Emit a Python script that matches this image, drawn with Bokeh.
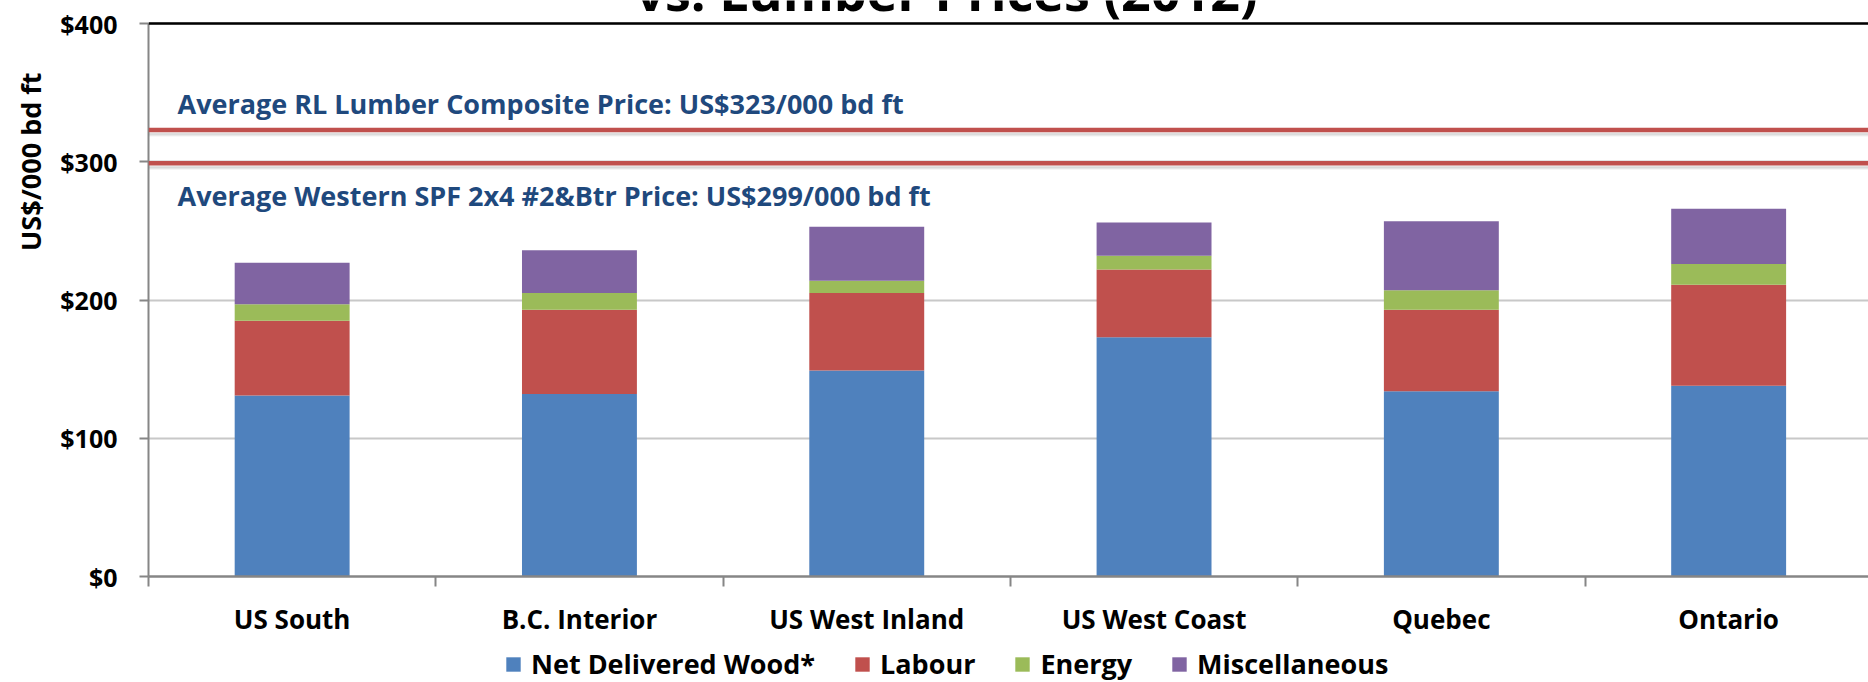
from bokeh.plotting import figure
from bokeh.layouts import column
from bokeh.models import (Range1d, Span, Label, Legend, LegendItem, FixedTicker,
                          ColumnDataSource, Title)
from bokeh.embed import file_html
from bokeh.resources import INLINE

# ---------------- data ----------------
regions = ["US South", "B.C. Interior", "US West Inland", "US West Coast", "Quebec", "Ontario"]
wood = [131, 132, 149, 173, 134, 138]
labour = [54, 61, 56, 49, 59, 73]
energy = [12, 12, 9, 10, 14, 15]
misc = [30, 31, 39, 24, 50, 40]
series_names = ["Net Delivered Wood*", "Labour", "Energy", "Miscellaneous"]
series_keys = ["wood", "labour", "energy", "misc"]
colors = ["#4F81BD", "#C0504D", "#9BBB59", "#8064A2"]
y_ticks = [0, 100, 200, 300, 400]
y_tick_labels = ["$0", "$100", "$200", "$300", "$400"]
rl_price = 323
spf_price = 299
rl_text = "Average RL Lumber Composite Price: US$323/000 bd ft"
spf_text = "Average Western SPF 2x4 #2&Btr Price: US$299/000 bd ft"
title_text = "vs. Lumber Prices (2012)"
y_label_text = "US$/000 bd ft"

# ---------------- layout ----------------
W = 1868
H1, H2 = 646, 36
B_LEFT = 148
AXIS_TOP_PX = 23          # where $400 sits
ZERO_PX = 576             # where $0 sits
B_BOTTOM = H1 - ZERO_PX
CAT_PX = 287.3
frame_w = W - B_LEFT
x_end = frame_w / CAT_PX
y_max = 400
ppu = (ZERO_PX - AXIS_TOP_PX) / y_max
y_top = ZERO_PX / ppu     # frame reaches the top of the page
FONT = "Open Sans"
NAVY = "#1F497D"
AXIS_GRAY = "#868686"

xs = [i + 0.5 for i in range(len(regions))]
bounds = [i for i in range(len(regions) + 1)]
src = ColumnDataSource(dict(x=xs, wood=wood, labour=labour, energy=energy, misc=misc))

p = figure(width=W, height=H1, output_backend="svg", toolbar_location=None,
           x_range=Range1d(0, x_end), y_range=Range1d(0, y_top),
           min_border_left=B_LEFT, min_border_right=0, min_border_top=0,
           min_border_bottom=B_BOTTOM)
p.outline_line_color = None
p.background_fill_color = "white"
p.border_fill_color = "white"

# grid
p.xgrid.visible = False
p.ygrid.ticker = FixedTicker(ticks=y_ticks)
p.ygrid.grid_line_color = "#C8C8C8"
p.ygrid.grid_line_width = 2

# bars
renderers = p.vbar_stack(series_keys, x="x", width=0.4, color=colors, source=src,
                         line_color=None)

# top black rule
p.add_layout(Span(location=y_max, dimension="width", line_color="black", line_width=2.5))

# price lines with soft shadow
for price in (rl_price, spf_price):
    for k, a in ((3.5, 0.10), (2.5, 0.15), (1.5, 0.2)):
        p.add_layout(Span(location=price - (k + 2) / ppu, dimension="width",
                          line_color="#808080", line_alpha=a, line_width=2))
    p.add_layout(Span(location=price, dimension="width", line_color="#C0504D",
                      line_width=4.5))

# axes
xa = p.xaxis[0]
xa.ticker = FixedTicker(ticks=xs, minor_ticks=bounds)
xa.major_label_overrides = {x: r for x, r in zip(xs, regions)}
xa.major_tick_out = 0
xa.major_tick_in = 0
xa.minor_tick_out = 10
xa.minor_tick_in = 0
xa.minor_tick_line_color = AXIS_GRAY
xa.minor_tick_line_width = 2
xa.axis_line_color = AXIS_GRAY
xa.axis_line_width = 2.5
xa.major_label_standoff = 14
xa.major_label_text_font = FONT
xa.major_label_text_font_style = "bold"
xa.major_label_text_font_size = "26px"
xa.major_label_text_color = "black"

ya = p.yaxis[0]
ya.ticker = FixedTicker(ticks=y_ticks)
ya.bounds = (0, y_max)
ya.major_label_overrides = {t: l for t, l in zip(y_ticks, y_tick_labels)}
ya.minor_tick_out = 0
ya.minor_tick_in = 0
ya.major_tick_out = 9
ya.major_tick_in = 0
ya.major_tick_line_color = AXIS_GRAY
ya.major_tick_line_width = 2
ya.axis_line_color = AXIS_GRAY
ya.axis_line_width = 2
ya.major_label_standoff = 22
ya.major_label_text_font = FONT
ya.major_label_text_font_style = "bold"
ya.major_label_text_font_size = "25px"
ya.major_label_text_color = "black"

# y axis title, near the top of the axis as in the original
p.add_layout(Title(text=y_label_text, align="right", offset=72, standoff=17,
                   text_font=FONT, text_font_style="bold", text_font_size="27px",
                   text_color="black"), "left")

# price annotations
p.add_layout(Label(x=0, y=rl_price, x_offset=29, y_offset=26, text=rl_text,
                   text_baseline="alphabetic", text_font=FONT, text_font_style="bold",
                   text_font_size="27px", text_color=NAVY))
p.add_layout(Label(x=0, y=spf_price, x_offset=29, y_offset=-32, text=spf_text,
                   text_baseline="alphabetic", text_font=FONT, text_font_style="bold",
                   text_font_size="27px", text_color=NAVY))

# title (its upper part falls above the page, as in the reference)
p.add_layout(Label(x=(946 - B_LEFT) / CAT_PX, y=y_max, y_offset=33.5, text=title_text,
                   text_align="center", text_baseline="alphabetic", text_font=FONT,
                   text_font_style="bold", text_font_size="52px", text_color="black"))

# ---------------- legend strip ----------------
p2 = figure(width=W, height=H2, output_backend="svg", toolbar_location=None,
            x_range=Range1d(0, x_end), y_range=Range1d(-2, -1),
            min_border_left=0, min_border_right=0, min_border_top=0, min_border_bottom=0,
            x_axis_type=None, y_axis_type=None)
p2.outline_line_color = None
p2.xgrid.visible = False
p2.ygrid.visible = False
leg_renderers = p2.vbar_stack(series_keys, x="x", width=0.4, color=colors, source=src,
                              line_color=None)
for r in leg_renderers:
    r.visible = False
legend = Legend(items=[LegendItem(label=n, renderers=[r])
                       for n, r in zip(series_names, leg_renderers)],
                orientation="horizontal", location=(356, 0))
legend.border_line_color = None
legend.background_fill_alpha = 0
legend.inactive_fill_alpha = 0
legend.padding = 0
legend.margin = 0
legend.spacing = 38
legend.label_standoff = 9
legend.glyph_width = 18
legend.glyph_height = 18
legend.label_text_font = FONT
legend.label_text_font_style = "bold"
legend.label_text_font_size = "27px"
legend.label_text_color = "black"
p2.add_layout(legend, "center")

root = column(p, p2, spacing=0)
open("out.html", "w").write(file_html(root, INLINE))
